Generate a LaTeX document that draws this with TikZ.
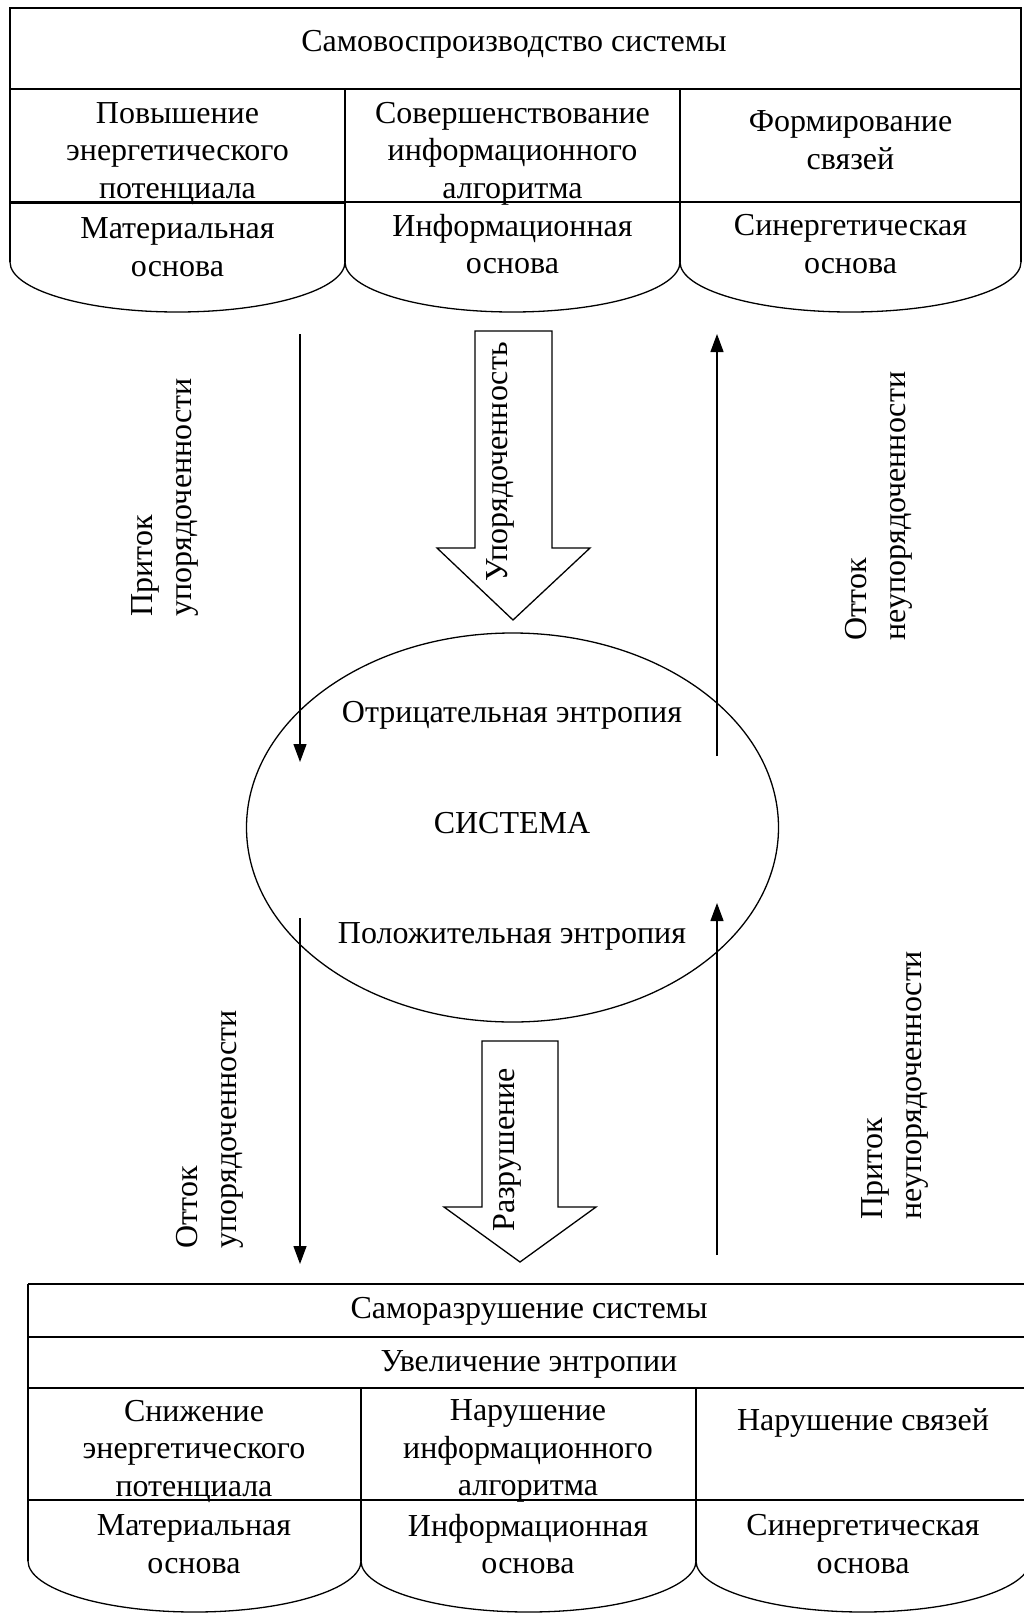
\documentclass[tikz,border=0pt]{standalone}
\usepackage{fontspec}
\setmainfont{Liberation Serif}
\usetikzlibrary{arrows.meta,shapes.geometric}

\begin{document}
\begin{tikzpicture}[x=1pt,y=-1pt,
  line width=1.3pt,
  txt/.style={font=\fontsize{32}{37.5}\selectfont, align=center, inner sep=0pt},
  sidetxt/.style={font=\fontsize{32}{39}\selectfont, align=left, inner sep=0pt, rotate=90, anchor=west},
  flow/.style={-{Triangle[width=13pt,length=18pt]}},
  bigarrow/.style={fill=white, line join=miter},
  ]
\clip (0,0) rectangle (1024,1614);

% ---------- upper block: self-reproduction ----------
\draw (10,8) rectangle (1021,89);
\draw (10,89) -- (1021,89);
\draw (345,89) -- (345,262);
\draw (680,89) -- (680,262);
\draw (10,89) -- (10,262);
\draw (1021,89) -- (1021,262);
\draw (345,202) -- (1021,202);
\draw[line width=3pt] (10,202) -- (345,202);
% rounded bases
\draw (10,262) .. controls (10,289.6) and (85,312) .. (177.5,312)
      .. controls (270,312) and (345,289.6) .. (345,262);
\draw (345,262) .. controls (345,289.6) and (420,312) .. (512.5,312)
      .. controls (605,312) and (680,289.6) .. (680,262);
\draw (680,262) .. controls (680,289.6) and (756.3,312) .. (850.5,312)
      .. controls (944.7,312) and (1021,289.6) .. (1021,262);

\node[txt] (t0) at (514,44) {Самовоспроизводство системы};
\node[txt] (t1) at (177.5,153.5) {Повышение\\энергетического\\потенциала};
\node[txt] (t2) at (512.5,153.5) {Совершенствование\\информационного\\алгоритма};
\node[txt] (t3) at (850.5,140) {Формирование\\связей};
\node[txt] (b1) at (177.5,247) {Материальная\\основа};
\node[txt] (b2) at (512.5,244) {Информационная\\основа};
\node[txt] (b3) at (850.5,244) {Синергетическая\\основа};

% ---------- the system ----------
\node[draw, ellipse, minimum width=532, minimum height=389, inner sep=0pt] (sys) at (512.5,827.5) {};
\node[txt] (neg) at (512,715) {Отрицательная энтропия};
\node[txt] (sysname) at (512,823) {СИСТЕМА};
\node[txt] (pos) at (512,936) {Положительная энтропия};

% thin flows
\coordinate (inOrdS) at (300,334);
\coordinate (inOrdE) at (300,762);
\coordinate (outDisS) at (717,756);
\coordinate (outDisE) at (717,334);
\coordinate (outOrdS) at (300,918);
\coordinate (outOrdE) at (300,1264);
\coordinate (inDisS) at (717,1255);
\coordinate (inDisE) at (717,903);
\draw[flow] (inOrdS) -- (inOrdE);
\draw[flow] (outDisS) -- (outDisE);
\draw[flow] (outOrdS) -- (outOrdE);
\draw[flow] (inDisS) -- (inDisE);

% block arrows
\draw[bigarrow] (475,331) -- (552,331) -- (552,548) -- (590,548) -- (513,620)
      -- (437,548) -- (475,548) -- cycle;
\draw[bigarrow] (482,1041) -- (558,1041) -- (558,1207) -- (596,1207) -- (520,1262)
      -- (444,1207) -- (482,1207) -- cycle;
\node[txt, rotate=90] (ordr) at (500,462) {Упорядоченность};
\node[txt, rotate=90] (destr) at (507,1150) {Разрушение};

% side labels
\node[sidetxt] (l1) at (165,617) {Приток\\упорядоченности};
\node[sidetxt] (l2) at (879,641) {Отток\\неупорядоченности};
\node[sidetxt] (l3) at (210,1249) {Отток\\упорядоченности};
\node[sidetxt] (l4) at (895,1220) {Приток\\неупорядоченности};

% ---------- lower block: self-destruction ----------
\draw (28,1284) -- (1030,1284);
\draw (28,1337) -- (1030,1337);
\draw (28,1388) -- (1030,1388);
\draw (28,1500) -- (1030,1500);
\draw (28,1284) -- (28,1561);
\draw (361,1388) -- (361,1561);
\draw (696,1388) -- (696,1561);
\draw (1030,1284) -- (1030,1561);
\draw (28,1561) .. controls (28,1588.6) and (102.5,1612) .. (194.5,1612)
      .. controls (286.5,1612) and (361,1588.6) .. (361,1561);
\draw (361,1561) .. controls (361,1588.6) and (436,1612) .. (528.5,1612)
      .. controls (621,1612) and (696,1588.6) .. (696,1561);
\draw (696,1561) .. controls (696,1588.6) and (770.8,1612) .. (863,1612)
      .. controls (955.2,1612) and (1030,1588.6) .. (1030,1561);

\node[txt] (s0) at (529,1311) {Саморазрушение системы};
\node[txt] (s1) at (529,1364) {Увеличение энтропии};
\node[txt] (d1) at (194,1451) {Снижение\\энергетического\\потенциала};
\node[txt] (d2) at (528,1451) {Нарушение\\информационного\\алгоритма};
\node[txt] (d3) at (863,1423) {Нарушение связей};
\node[txt] (e1) at (194,1544) {Материальная\\основа};
\node[txt] (e2) at (528,1544) {Информационная\\основа};
\node[txt] (e3) at (863,1544) {Синергетическая\\основа};
\end{tikzpicture}
\end{document}
